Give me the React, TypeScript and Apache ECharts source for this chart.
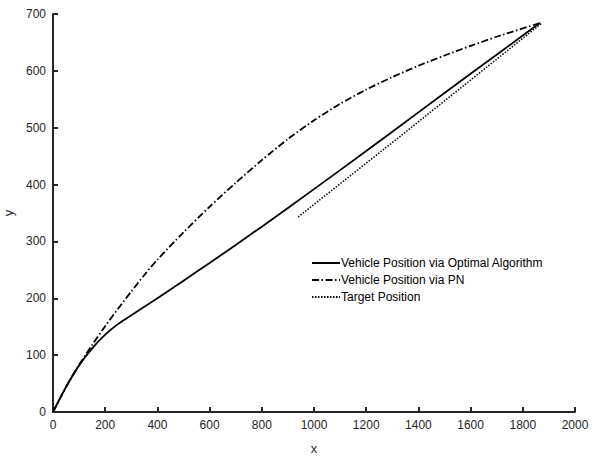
import React, { useEffect, useRef } from "react";
import * as echarts from "echarts";

const optimalX = [0, 50, 100, 150, 200, 250, 300, 350, 400, 500, 600, 800, 1000, 1200, 1400, 1600, 1865];
const optimalY = [0, 44, 82, 112, 136, 155, 170, 185, 200, 231, 262, 326, 392, 459, 527, 595, 684];

const pnX = [0, 50, 100, 150, 200, 250, 300, 350, 400, 500, 600, 700, 800, 900, 1000, 1100, 1200, 1300, 1400, 1500, 1600, 1700, 1865];
const pnY = [0, 44, 83, 118, 151, 182, 212, 241, 268, 316, 361, 403, 443, 480, 513, 542, 567, 589, 609, 627, 644, 660, 684];

const targetX = [939, 1328, 1870];
const targetY = [343, 484, 683];

const xTicks = [0, 200, 400, 600, 800, 1000, 1200, 1400, 1600, 1800, 2000];
const yTicks = [0, 100, 200, 300, 400, 500, 600, 700];

const seriesNames = [
  "Vehicle Position via Optimal Algorithm",
  "Vehicle Position via PN",
  "Target Position",
];

const zip = (xs: number[], ys: number[]) => xs.map((x, i) => [x, ys[i]]);

export default function App() {
  const ref = useRef<HTMLDivElement>(null);
  useEffect(() => {
    if (!ref.current) return;
    const chart = echarts.init(ref.current, undefined, { renderer: "svg" });
    const axisColor = "#262626";
    const font = "Liberation Sans, Arial, Helvetica, sans-serif";
    const axisCommon = {
      type: "value",
      nameLocation: "middle",
      nameTextStyle: { color: axisColor, fontSize: 13, fontFamily: font },
      axisLine: { show: true, lineStyle: { color: axisColor, width: 2 } },
      axisTick: { show: true, inside: true, length: 5, lineStyle: { color: axisColor, width: 2 } },
      axisLabel: {
        color: axisColor,
        fontSize: 12,
        fontFamily: font,
        margin: 7,
        formatter: (v: number) => String(v),
      },
      splitLine: { show: false },
    };
    chart.setOption({
      animation: false,
      backgroundColor: "#ffffff",
      grid: { left: 53, right: 17, top: 14, bottom: 44, containLabel: false, outerBoundsMode: "none" },
      legend: {
        orient: "vertical",
        left: 306,
        top: 252,
        itemWidth: 28,
        itemHeight: 10,
        itemGap: 5,
        itemStyle: { opacity: 0, borderWidth: 0 },
        textStyle: { color: "#000", fontSize: 12, fontFamily: font, padding: [0, 0, 0, -4] },
        data: seriesNames,
      },
      xAxis: {
        ...axisCommon,
        min: xTicks[0],
        max: xTicks[xTicks.length - 1],
        interval: xTicks[1] - xTicks[0],
        name: "x",
        nameGap: 30,
      },
      yAxis: {
        ...axisCommon,
        min: yTicks[0],
        max: yTicks[yTicks.length - 1],
        interval: yTicks[1] - yTicks[0],
        name: "y",
        nameGap: 37,
      },
      series: [
        {
          name: seriesNames[0],
          type: "line",
          data: zip(optimalX, optimalY),
          symbol: "none",
          smooth: 0.25,
          lineStyle: { color: "#000", width: 1.8, type: "solid" },
          itemStyle: { color: "#000" },
        },
        {
          name: seriesNames[1],
          type: "line",
          data: zip(pnX, pnY),
          symbol: "none",
          smooth: 0.25,
          lineStyle: { color: "#000", width: 1.8, type: [7, 2.5, 1.5, 2.5] },
          itemStyle: { color: "#000" },
        },
        {
          name: seriesNames[2],
          type: "line",
          data: zip(targetX, targetY),
          symbol: "none",
          lineStyle: { color: "#000", width: 1.5, type: [1.5, 1.5] },
          itemStyle: { color: "#000" },
        },
      ],
    });
    return () => chart.dispose();
  }, []);
  return <div ref={ref} style={{ width: 592, height: 456, position: "absolute", left: 0, top: 0 }} />;
}
